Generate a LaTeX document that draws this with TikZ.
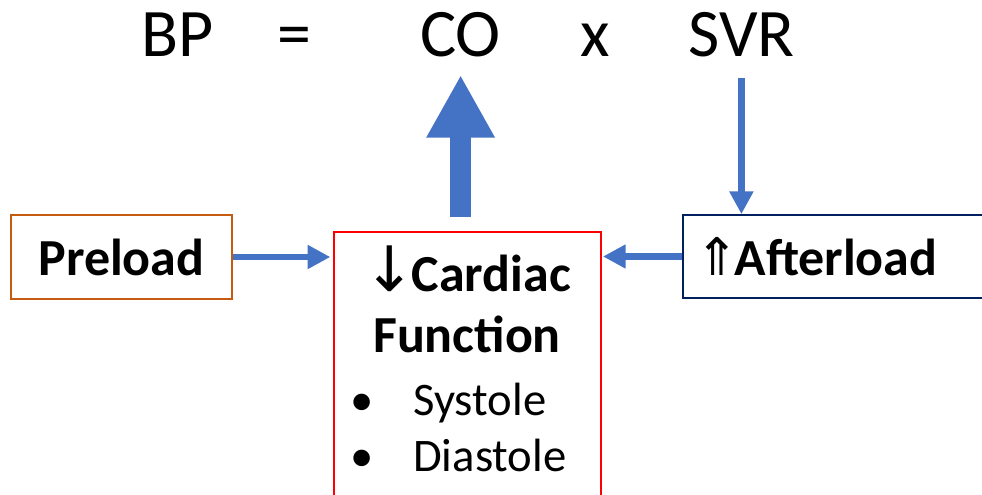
\documentclass[tikz,border=0pt]{standalone}
\usepackage{fontspec}
\setmainfont{Carlito}
\newfontfamily\arrowfont{DejaVu Sans}
\usetikzlibrary{arrows.meta}
\definecolor{arrowblue}{HTML}{4472C4}
\definecolor{preorange}{HTML}{C55A11}
\definecolor{afternavy}{HTML}{002060}
\begin{document}
\begin{tikzpicture}[x=0.75pt,y=-0.75pt,
  eqtext/.style={font=\fontsize{51}{60}\selectfont,anchor=base west,inner sep=0pt},
  boldtext/.style={font=\fontsize{39}{47}\selectfont\bfseries},
  itemtext/.style={font=\fontsize{35}{42}\selectfont,inner sep=0pt},
  thinarrow/.style={draw=arrowblue,line width=5pt,-{Triangle[length=17pt,width=17pt]}}]
\useasboundingbox (0,0) rectangle (982,495);
\clip (0,0) rectangle (982,495);
% Top line: BP = CO x SVR
\foreach \name/\x/\word in {bp/141/BP,eq/277/=,co/420/CO,times/580/x,svr/688/SVR}
  \node[eqtext] (\name) at (\x,57) {\word};
% Boxes
\node[draw=preorange,line width=1.5pt,boldtext,minimum width=166pt,minimum height=63pt,inner sep=0pt] (pre) at (121.5,257) {Preload\hspace{6pt}};
\node[draw=red,line width=1.5pt,minimum width=200pt,minimum height=250pt,anchor=north west,inner sep=0pt] (card) at (333,231) {};
\node[draw=afternavy,line width=1.5pt,boldtext,anchor=west,text width=225pt,align=left,inner xsep=9pt,minimum height=62pt] (aft) at (682,256.5) {{\arrowfont\mdseries ⇑}\kern-3pt Afterload};
% Text inside the cardiac box
\node[boldtext,anchor=base] (cardiac) at (467,292) {{\arrowfont\mdseries\fontsize{47}{50}\selectfont ↓}\kern-3pt Cardiac};
\node[boldtext,anchor=base] (func) at (467,353) {Function};
\foreach \name/\y/\word in {sys/415/Systole,dia/471/Diastole} {
  \node[itemtext,anchor=base] (\name dot) at (362,\y) {•};
  \node[itemtext,anchor=base west] (\name) at (413,\y) {\word};
}
% Arrows
\draw[thinarrow,shorten >=2pt] (pre.east) -- (pre.east -| card.west);
\draw[thinarrow,shorten >=1pt] (aft.west) -- (aft.west -| card.east);
\draw[thinarrow,shorten <=15pt] (svr.south) -- (svr.south |- aft.north);
\draw[arrowblue,line width=15.75pt,-{Triangle[length=47pt,width=48pt]},shorten <=10.5pt,shorten >=13.5pt] (co.base |- card.north) -- (co.base);
\end{tikzpicture}
\end{document}
